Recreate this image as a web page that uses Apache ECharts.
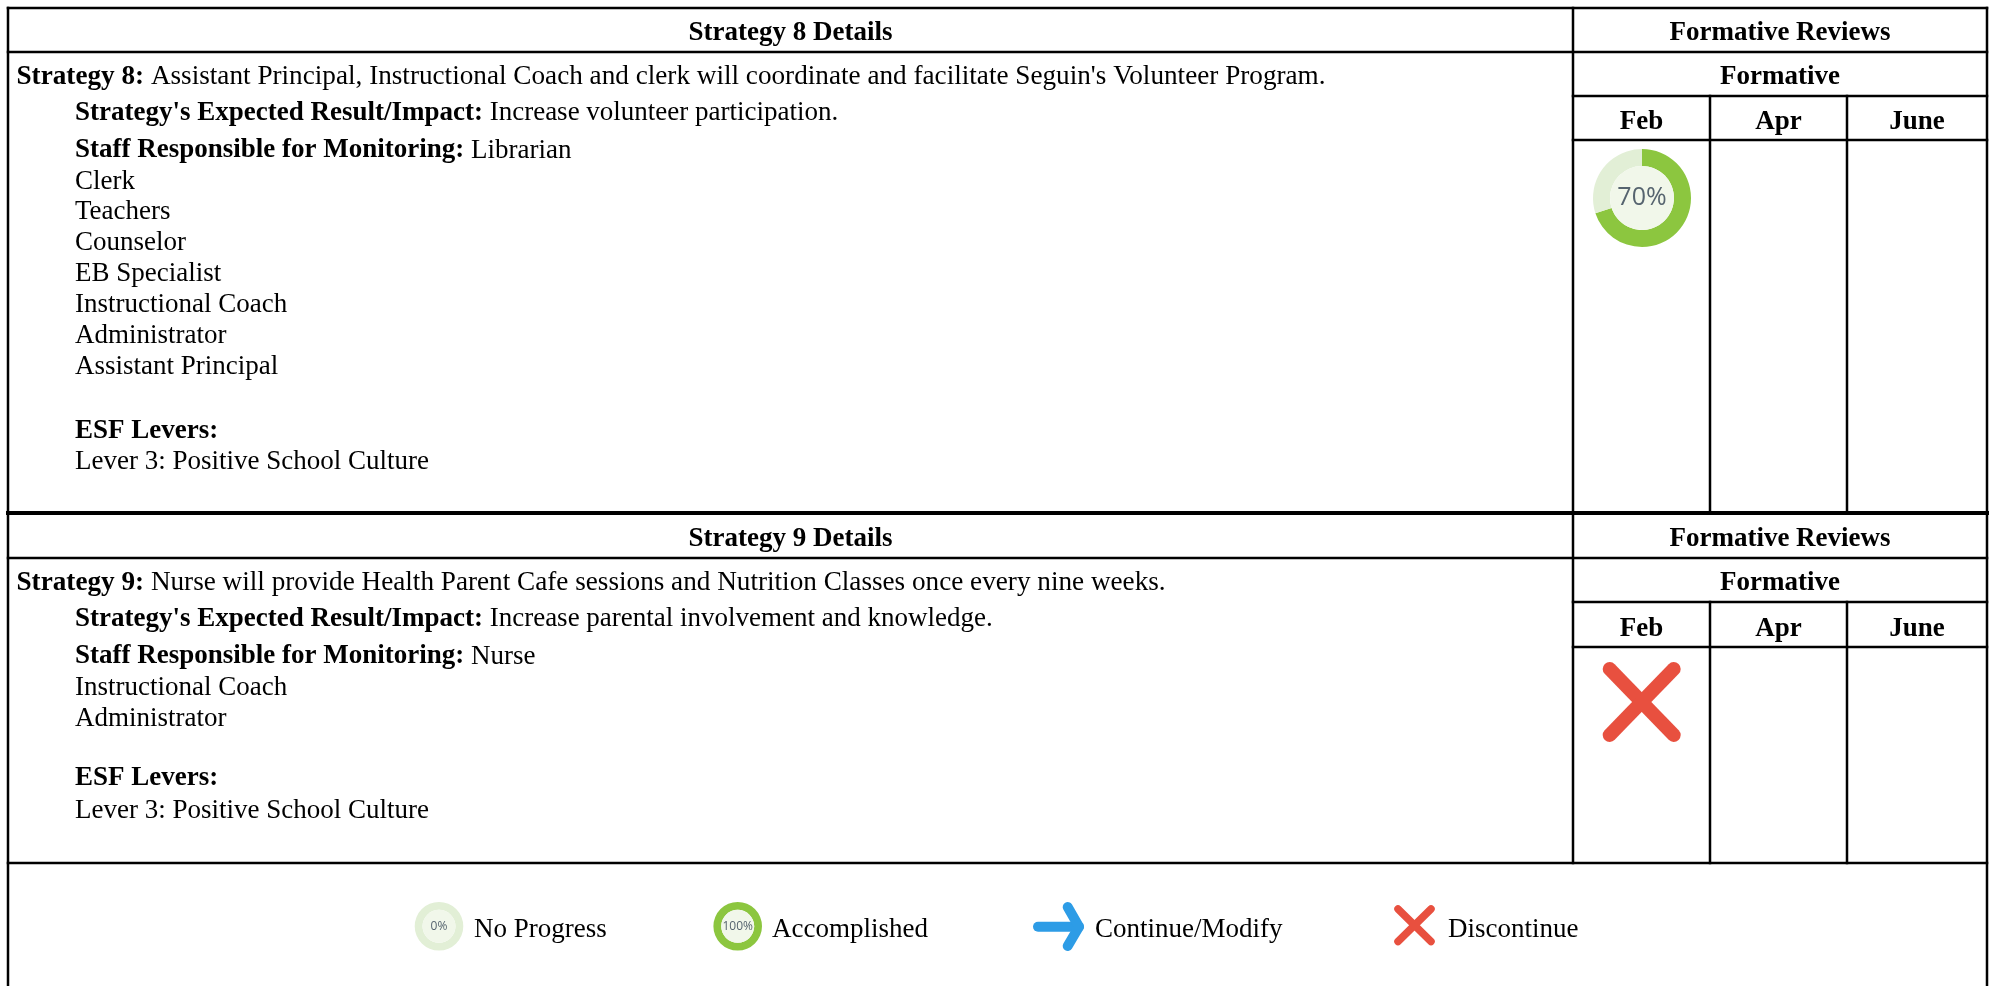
<!DOCTYPE html>
<html>
<head>
<meta charset="utf-8">
<title>Strategy details</title>
<script src="https://cdn.jsdelivr.net/npm/echarts@6/dist/echarts.min.js"></script>
<style>
html, body { margin: 0; padding: 0; background: #fff; }
#main { width: 1995px; height: 986px; }
</style>
</head>
<body>
<div id="main"></div>
<script>
// table content
var strategyNames = ['Strategy 8', 'Strategy 9'];
var strategyTexts = [
    "Assistant Principal, Instructional Coach and clerk will coordinate and facilitate Seguin's Volunteer Program.",
    'Nurse will provide Health Parent Cafe sessions and Nutrition Classes once every nine weeks.'
];
var expectedResults = ['Increase volunteer participation.', 'Increase parental involvement and knowledge.'];
var staff8 = ['Librarian', 'Clerk', 'Teachers', 'Counselor', 'EB Specialist', 'Instructional Coach', 'Administrator', 'Assistant Principal'];
var staff9 = ['Nurse', 'Instructional Coach', 'Administrator'];
var leverText = 'Lever 3: Positive School Culture';
var reviewMonths = ['Feb', 'Apr', 'June'];
var legendNames = ['No Progress', 'Accomplished', 'Continue/Modify', 'Discontinue'];

// progress rings, percent done
var febProgress8 = 70;
var noProgress = 0;
var accomplished = 100;

// layout, in page pixels
var W = 1995, H = 986;
var colX = [8, 1573, 1710, 1847, 1987];
var tableTop = 8, tableBottom = 986;
var block8 = {top: 8, head: 52, form: 96, months: 140, end: 513};
var block9 = {top: 513, head: 558, form: 602, months: 647, end: 863};
var GREEN = '#8cc63f', PALE = '#e2efd6', INNER = '#f1f7ea', RED = '#e8503f', BLUE = '#2d9ce6';
var FONT = '"Liberation Serif", "Times New Roman", serif';
var TEXT_SIZE = 27;

var rules = [];
function hLine(x1, x2, y, w) { rules.push([x1, y, x2, y, w]); }
function vLine(x, y1, y2, w) { rules.push([x, y1, x, y2, w]); }

hLine(colX[0], colX[4], block8.top, 2.5);
hLine(colX[0], colX[4], block8.head, 2.5);
hLine(colX[0], colX[4], block9.top, 4);
hLine(colX[0], colX[4], block9.head, 2.5);
hLine(colX[0], colX[4], block9.end, 2.5);
[block8, block9].forEach(function (b) {
    hLine(colX[1], colX[4], b.form, 2.5);
    hLine(colX[1], colX[4], b.months, 2.5);
    vLine(colX[2], b.form, b.end, 2.5);
    vLine(colX[3], b.form, b.end, 2.5);
});
vLine(colX[0], tableTop, tableBottom, 2.5);
vLine(colX[1], tableTop, block9.end, 2.5);
vLine(colX[4], tableTop, tableBottom, 2.5);

var texts = [];
function addText(x, y, bold, normal, align, wide) {
    var s = '';
    if (bold) s += (wide ? '{bw|' : '{b|') + bold + '}';
    if (normal) s += (wide ? '{nw|' : '{n|') + (bold ? ' ' : '') + normal + '}';
    texts.push([x, y, s, align || 'left']);
}

var midDetails = (colX[0] + colX[1]) / 2, midReviews = (colX[1] + colX[4]) / 2;
function monthMid(i) { return (colX[i + 1] + colX[i + 2]) / 2; }

function addBlock(idx, ys, staff) {
    addText(midDetails, ys.head, strategyNames[idx] + ' Details', '', 'center');
    addText(midReviews, ys.head, 'Formative Reviews', '', 'center');
    addText(midReviews, ys.form, 'Formative', '', 'center');
    reviewMonths.forEach(function (m, i) { addText(monthMid(i), ys.month, m, '', 'center'); });
    addText(16.5, ys.strategy, strategyNames[idx] + ':', strategyTexts[idx], 'left', true);
    addText(75, ys.expected, "Strategy's Expected Result/Impact:", expectedResults[idx]);
    addText(75, ys.staff[0], 'Staff Responsible for Monitoring:', staff[0]);
    for (var i = 1; i < staff.length; i++) addText(75, ys.staff[i], '', staff[i]);
    addText(75, ys.esf, 'ESF Levers:', '');
    addText(75, ys.lever, '', leverText);
}
addBlock(0, {head: 33.5, form: 77.5, month: 122, strategy: 76.5, expected: 113, staff: [150.5, 181.5, 211.5, 242.5, 273.5, 304.5, 335.5, 366.5], esf: 431.5, lever: 461.5}, staff8);
addBlock(1, {head: 539.5, form: 583.5, month: 629, strategy: 582.5, expected: 619, staff: [656.5, 687.5, 718.5], esf: 778.5, lever: 810.5}, staff9);
[474, 772, 1095, 1448].forEach(function (x, i) { addText(x, 930, '', legendNames[i]); });

// icon strokes: arrow and crosses
var glyphs = [
    {color: RED, width: 14, paths: [[[1609.7, 669], [1673.7, 735]], [[1673.7, 669], [1609.7, 735]]]},
    {color: BLUE, width: 10, paths: [[[1038, 926.7], [1079, 926.7]], [[1067.7, 907], [1079, 926.7], [1067.7, 946]]]},
    {color: RED, width: 7.5, paths: [[[1398, 909], [1431, 941.5]], [[1431, 909], [1398, 941.5]]]}
];

function ring(center, outer, inner, pct, fontSize) {
    return [
        {
            type: 'pie', silent: true, animation: false, center: center, radius: [inner, outer],
            startAngle: 90, label: {show: false}, labelLine: {show: false}, z: 3,
            data: [
                {value: pct, itemStyle: {color: GREEN}},
                {value: 100 - pct, itemStyle: {color: PALE}}
            ]
        },
        {
            type: 'pie', silent: true, animation: false, center: center, radius: [0, inner],
            z: 3, labelLine: {show: false},
            label: {
                show: true, position: 'center', formatter: pct + '%',
                fontFamily: '"Open Sans", sans-serif', fontSize: fontSize, color: '#56646f'
            },
            data: [{value: 1, itemStyle: {color: INNER}}]
        }
    ];
}

var myChart = echarts.init(document.getElementById('main'), null, {renderer: 'canvas'});

var option = {
    animation: false,
    backgroundColor: '#ffffff',
    grid: {left: 0, right: 0, top: 0, bottom: 0},
    xAxis: {type: 'value', min: 0, max: W, show: false},
    yAxis: {type: 'value', min: 0, max: H, inverse: true, show: false},
    series: [
        {
            type: 'custom', coordinateSystem: 'cartesian2d', silent: true, clip: false,
            data: rules,
            encode: {x: [0, 2], y: [1, 3]},
            renderItem: function (params, api) {
                var a = api.coord([api.value(0), api.value(1)]);
                var b = api.coord([api.value(2), api.value(3)]);
                return {
                    type: 'line',
                    shape: {x1: a[0], y1: a[1], x2: b[0], y2: b[1]},
                    style: {stroke: '#000', lineWidth: api.value(4), lineCap: 'square'}
                };
            }
        },
        {
            type: 'custom', coordinateSystem: 'cartesian2d', silent: true, clip: false,
            data: texts,
            encode: {x: 0, y: 1},
            renderItem: function (params, api) {
                var t = texts[params.dataIndex];
                var p = api.coord([t[0], t[1]]);
                return {
                    type: 'text', x: p[0], y: p[1],
                    style: {
                        text: t[2], align: t[3], verticalAlign: 'middle',
                        rich: {
                            b: {fontFamily: FONT, fontSize: TEXT_SIZE, fontWeight: 'bold', fill: '#000'},
                            n: {fontFamily: FONT, fontSize: TEXT_SIZE, fill: '#000'},
                            bw: {fontFamily: FONT, fontSize: TEXT_SIZE + 0.2, fontWeight: 'bold', fill: '#000'},
                            nw: {fontFamily: FONT, fontSize: TEXT_SIZE + 0.2, fill: '#000'}
                        }
                    }
                };
            }
        },
        {
            type: 'custom', coordinateSystem: 'cartesian2d', silent: true, clip: false,
            data: glyphs.map(function (g, i) { return [g.paths[0][0][0], g.paths[0][0][1], i]; }),
            encode: {x: 0, y: 1},
            renderItem: function (params, api) {
                var g = glyphs[params.dataIndex];
                return {
                    type: 'group',
                    children: g.paths.map(function (path) {
                        return {
                            type: 'polyline',
                            shape: {points: path.map(function (pt) { return api.coord(pt); })},
                            style: {stroke: g.color, lineWidth: g.width, lineCap: 'round', lineJoin: 'round', fill: null}
                        };
                    })
                };
            }
        }
    ].concat(
        ring([1642, 198], 49, 32, febProgress8, 25),
        ring([439, 926.3], 24.3, 16.5, noProgress, 12),
        ring([737.7, 926.3], 24.3, 16.5, accomplished, 12)
    )
};

myChart.setOption(option);
</script>
</body>
</html>
